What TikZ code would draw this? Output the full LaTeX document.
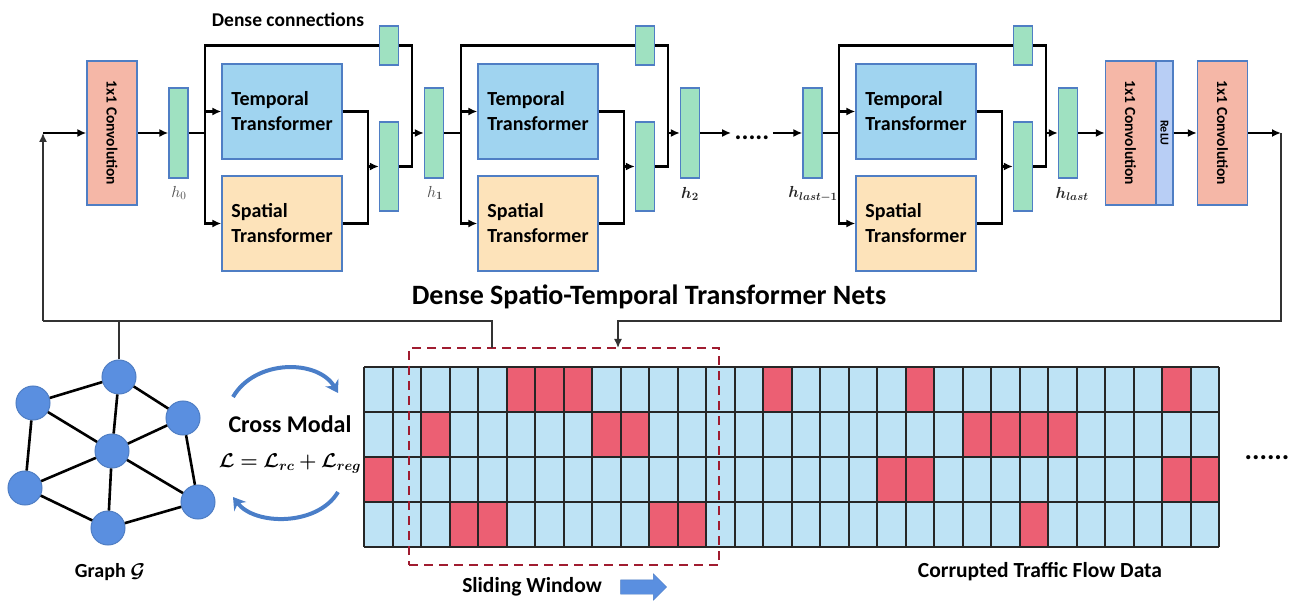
\RequirePackage{fix-cm}
\documentclass[tikz,border=0pt]{standalone}
\usepackage{amsmath,bm,graphicx}
\usepackage{fontspec}
\setmainfont{Carlito}
\usetikzlibrary{arrows.meta,shapes.arrows}

\definecolor{boxline}{HTML}{4F7EC4}
\definecolor{convred}{HTML}{F5B7A7}
\definecolor{featgreen}{HTML}{9FE1C1}
\definecolor{tempblue}{HTML}{A0D4F0}
\definecolor{spatorange}{HTML}{FDE3BA}
\definecolor{relublue}{HTML}{B8CEF5}
\definecolor{cellblue}{HTML}{BEE3F5}
\definecolor{cellred}{HTML}{EC5F73}
\definecolor{winred}{HTML}{A01C30}
\definecolor{nodeblue}{HTML}{5A8FE0}
\definecolor{arcblue}{HTML}{4A7EC8}

\tikzset{
	box/.style={draw=boxline, line width=1.3pt, inner sep=0pt},
	convbox/.style={box, fill=convred, minimum width=50, minimum height=144,
		font=\fontsize{15.5}{15.5}\selectfont\bfseries},
	relubox/.style={box, fill=relublue, minimum width=17, minimum height=144,
		font=\fontsize{12}{12}\selectfont\bfseries},
	featbox/.style={box, fill=featgreen, minimum width=19, minimum height=90},
	ttbox/.style={box, fill=tempblue, minimum width=120, minimum height=95, align=left,
		font=\fontsize{20}{25}\selectfont\bfseries},
	stbox/.style={ttbox, fill=spatorange},
	wire/.style={line width=2.2pt, line join=miter},
	arrwire/.style={wire, -{Latex[length=9pt,width=8pt]}},
	fbwire/.style={line width=1.5pt, draw=black!80},
	fbarr/.style={fbwire, -{Latex[length=9pt,width=8pt]}},
	hlab/.style={font=\fontsize{16}{16}\selectfont, text=black!70},
	txt/.style={font=\fontsize{21.5}{21.5}\selectfont\bfseries},
	gnode/.style={circle, draw=boxline, fill=nodeblue, line width=1pt, minimum size=34, inner sep=0pt},
	gedge/.style={line width=2.6pt},
	arc/.style={line width=4pt, draw=arcblue, -{Stealth[length=12pt,width=15pt]}},
	win/.style={draw=winred, line width=2.5pt, dash pattern=on 9pt off 6pt,
		minimum width=310, minimum height=217, inner sep=0pt},
	slide/.style={single arrow, fill=nodeblue, draw=boxline, minimum height=46,
		single arrow head extend=6pt, inner sep=7pt}
}

\begin{document}
\begin{tikzpicture}[x=1pt, y=-1pt]
	\useasboundingbox (0,0) rectangle (1296,601);

	\node[convbox] (conv0) at (112,133) {\rotatebox{-90}{1x1 Convolution}};
	\node[featbox] (h0) at (178.5,133) {};
	\node[featbox] (h1) at (434,133) {};
	\node[featbox] (h2) at (690,133) {};
	\node[featbox] (h3) at (812.5,133) {};
	\node[featbox] (h4) at (1068,133) {};
	\node[hlab] (l0) at (179,193) {$h_0$};
	\node[hlab] (l1) at (435,193) {$h_{\bm 1}$};
	\node[hlab, text=black!85] (l2) at (690,194) {$\bm{h_2}$};
	\node[hlab, text=black!85] (l3) at (813,194) {$\bm{h_{last-1}}$};
	\node[hlab, text=black!85] (l4) at (1072,194) {$\bm{h_{last}}$};
	\node[txt, font=\fontsize{19.5}{19.5}\selectfont\bfseries] (dlab) at (288,20) {Dense connections};

	\foreach \o/\a/\b/\n in {0/h0/h1/1, 256/h1/h2/2, 634/h3/h4/3}{
		\node[ttbox] (tt\n) at (282+\o,111.5) {Temporal\\Transformer};
		\node[stbox] (st\n) at (282+\o,223.5) {Spatial\\Transformer};
		\node[featbox, minimum height=89] (mg\n) at (389+\o,166.5) {};
		\node[featbox, minimum height=39] (dc\n) at (389+\o,45.5) {};
		\coordinate (j\n) at (205+\o,133);
		\coordinate (c\n) at (368+\o,166.5);
		\coordinate (r\n) at (412+\o,133);
		\draw[wire] (\a.east) -- (j\n);
		\draw[arrwire] (j\n) |- (tt\n.west);
		\draw[arrwire] (j\n) |- (st\n.west);
		\draw[wire] (j\n) |- (dc\n.west);
		\draw[wire] (tt\n.east) -| (c\n);
		\draw[wire] (st\n.east) -| (c\n);
		\draw[arrwire] (c\n) -- (mg\n.west);
		\draw[wire] (dc\n.east) -| (r\n |- mg\n.east) -- (mg\n.east);
		\draw[arrwire] (r\n) -- (\b.west);
	}

	\node[font=\fontsize{26}{26}\selectfont\bfseries] (dots) at (752,138) {.....};
	\draw[arrwire] (conv0.east) -- (h0.west);
	\draw[arrwire] (h2.east) -- (h2.east -| dots.west);
	\draw[arrwire] (h3.west -| dots.east) -- (h3.west);

	\node[convbox] (conv1) at (1130.5,133) {\rotatebox{-90}{1x1 Convolution}};
	\node[relubox] (relu) at (1164.5,133) {\rotatebox{-90}{ReLU}};
	\node[convbox] (conv2) at (1222.5,133) {\rotatebox{-90}{1x1 Convolution}};
	\draw[arrwire] (h4.east) -- (conv1.west);
	\draw[arrwire] (relu.east) -- (conv2.west);

	\node[font=\fontsize{28}{28}\selectfont\bfseries] (title) at (649,297) {Dense Spatio-Temporal Transformer Nets};

	\node[gnode] (g1) at (119,377) {};
	\node[gnode] (g2) at (33,403) {};
	\node[gnode] (g3) at (183,418) {};
	\node[gnode] (g4) at (112,451) {};
	\node[gnode] (g5) at (25,488) {};
	\node[gnode] (g6) at (198,502) {};
	\node[gnode] (g7) at (108,528) {};
	\foreach \u/\v in {g1/g2, g1/g3, g1/g4, g2/g4, g2/g5, g3/g4, g3/g6, g4/g5, g4/g6, g4/g7, g5/g7, g7/g6}
		\draw[gedge] (\u) -- (\v);
	\node[txt, font=\fontsize{20}{20}\selectfont\bfseries] (glab) at (110,572) {Graph $\bm{\mathcal{G}}$};

	\node[txt, font=\fontsize{24}{24}\selectfont\bfseries] (cm) at (290,424) {Cross Modal};
	\node[txt, font=\fontsize{20}{20}\selectfont\bfseries] (loss) at (290,463) {$\bm{\mathcal{L}=\mathcal{L}_{rc}+\mathcal{L}_{reg}}$};
	\coordinate (ca1) at (233,397);
	\coordinate (ca2) at (338,393);
	\coordinate (cb1) at (338,492);
	\coordinate (cb2) at (233,497);
	\draw[arc] (ca1) .. controls (255,359) and (318,359) .. (ca2);
	\draw[arc] (cb1) .. controls (318,526) and (255,526) .. (cb2);

	\begin{scope}[shift={(364,547)}, x=28.5pt, y=45pt]
		\fill[cellblue] (0,0) rectangle (30,4);
		\foreach \c/\r in {5/3,6/3,7/3,14/3,19/3,28/3, 2/2,8/2,9/2,21/2,22/2,23/2,24/2,
			0/1,18/1,19/1,28/1,29/1, 3/0,4/0,10/0,11/0,23/0}
			\fill[cellred] (\c,\r) rectangle ++(1,1);
		\draw[line width=2pt, draw=black!85, step=1] (0,0) grid (30,4);
	\end{scope}

	\node[win] (win) at (564,456.5) {};
	\node[txt] (swl) at (532,587) {Sliding Window};
	\node[slide] (sarr) at (640,587) {};
	\node[txt] (cdl) at (1040,572) {Corrupted Traffic Flow Data};
	\node[font=\fontsize{28}{28}\selectfont\bfseries] (more) at (1267,458) {......};

	\coordinate (in) at (43,133);
	\coordinate (fb) at (43,321);
	\coordinate (wl) at (492,348);
	\coordinate (out) at (1281,133);
	\coordinate (fr) at (1281,321);
	\coordinate (wr) at (618,348);
	\draw[fbarr] (fb) -- (in);
	\draw[arrwire] (in) -- (conv0.west);
	\draw[fbwire] (fb) -| (wl);
	\draw[fbwire] (g1.north) -- (g1.north |- fb);
	\draw[arrwire] (conv2.east) -- (out);
	\draw[fbarr] (out) -- (fr) -| (wr);
\end{tikzpicture}
\end{document}
